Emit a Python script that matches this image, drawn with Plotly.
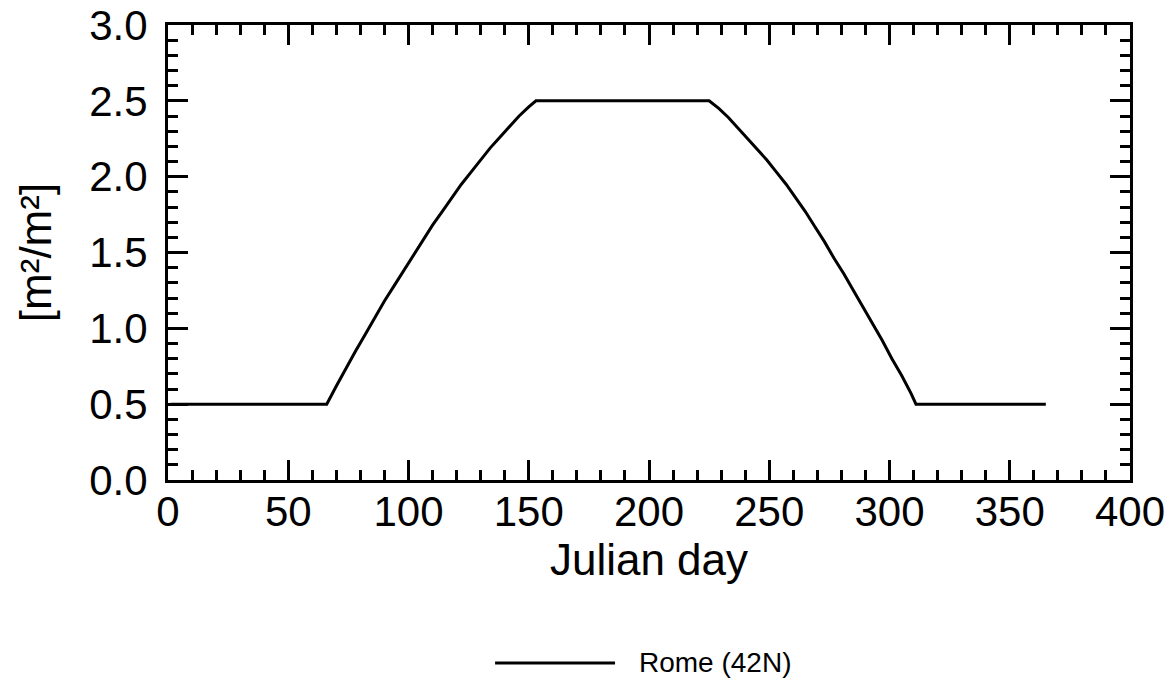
import plotly.graph_objects as go

# Data (Julian day vs LAI [m2/m2])
days = [1, 66, 70, 74, 78, 82, 86, 90, 94, 98, 102, 106, 110, 114, 118, 122, 126, 130,
        134, 138, 142, 146, 150, 153,
        225, 229, 233, 237, 241, 245, 249, 253, 257, 261, 265, 269, 273, 277, 281,
        285, 289, 293, 297, 301, 305, 309, 311, 365]
lai = [0.50, 0.50, 0.62, 0.74, 0.85, 0.96, 1.07, 1.18, 1.28, 1.38, 1.48, 1.58, 1.68, 1.77,
       1.86, 1.95, 2.03, 2.11, 2.19, 2.26, 2.33, 2.40, 2.46, 2.50,
       2.50, 2.45, 2.39, 2.32, 2.25, 2.18, 2.11, 2.03, 1.95, 1.86, 1.77, 1.67, 1.57,
       1.46, 1.36, 1.25, 1.14, 1.03, 0.92, 0.80, 0.69, 0.57, 0.50, 0.50]
series_name = "Rome (42N)"
x_title = "Julian day"
y_title = "[m²/m²]"

FONT = "Liberation Sans, Arial, Helvetica, sans-serif"

fig = go.Figure()
fig.add_trace(go.Scatter(x=days, y=lai, mode="lines", name=series_name,
                         line=dict(color="black", width=3), showlegend=False))

axis_common = dict(
    showline=True, linecolor="black", linewidth=3, mirror="ticks",
    ticks="inside", ticklen=20, tickwidth=3, tickcolor="black",
    showgrid=False, zeroline=False, automargin=False,
    tickfont=dict(family=FONT, size=42, color="black"),
)

fig.update_xaxes(range=[0, 400], dtick=50, tick0=0,
                 minor=dict(ticks="inside", ticklen=10, tickwidth=3, dtick=10, tickcolor="black", showgrid=False),
                 title=dict(text=x_title, font=dict(family=FONT, size=44, color="black"), standoff=0),
                 ticklabelstandoff=-7,
                 **axis_common)
fig.update_yaxes(range=[0, 3], dtick=0.5, tick0=0, tickformat=".1f",
                 minor=dict(ticks="inside", ticklen=10, tickwidth=3, dtick=0.1, tickcolor="black", showgrid=False),
                 title=dict(text=y_title, font=dict(family=FONT, size=44, color="black"), standoff=24),
                 ticklabelstandoff=9,
                 **axis_common)

# Legend drawn below the plot
fig.add_shape(type="line", xref="paper", yref="paper", x0=0.340, x1=0.4647, y0=-0.402, y1=-0.402,
              line=dict(color="black", width=3))
fig.add_annotation(text=series_name, xref="paper", yref="paper", x=0.4875, y=-0.402,
                   xanchor="left", yanchor="middle", showarrow=False,
                   font=dict(family=FONT, size=28, color="black"))

fig.update_layout(width=1171, height=682,
                  margin=dict(l=168, r=41, t=25, b=202),
                  paper_bgcolor="white", plot_bgcolor="white",
                  font=dict(family=FONT, color="black"))

fig.write_html("out.html")
